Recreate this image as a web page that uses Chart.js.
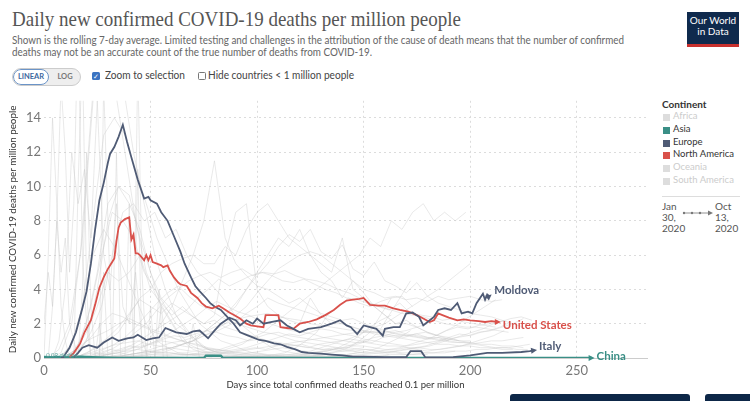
<!DOCTYPE html>
<html>
<head>
<meta charset="utf-8">
<script src="https://cdn.jsdelivr.net/npm/chart.js@4.4.1/dist/chart.umd.min.js"></script>
<style>
body{margin:0;width:750px;height:401px;overflow:hidden;background:#fff;font-family:Lato,sans-serif;position:relative}
.t{position:absolute;white-space:nowrap;transform-origin:0 50%}
#title{left:12px;top:6px;font-family:"Liberation Serif",serif;font-size:22px;color:#555}
.sub{left:12px;font-size:11px;color:#666}
#logo{position:absolute;left:687px;top:12px;width:52px;background:#0f2a4d;border-bottom:3px solid #c8312e;color:#fff;font-size:10px;line-height:11px;text-align:center;padding-top:3px;box-sizing:content-box;height:29px}
#toggle{position:absolute;left:12px;top:68px;width:67px;height:16px;border:1px solid #ccc;border-radius:9px;background:#eee;overflow:hidden}
#lin{position:absolute;left:0;top:0;width:34px;height:14px;border:1px solid #6b94c8;border-radius:9px;background:#fff;color:#3c679e;font-size:7.5px;line-height:14px;text-align:center;font-weight:bold}
#log{position:absolute;left:38px;top:0;width:28px;height:16px;color:#777;font-size:7.5px;line-height:16px;text-align:center;font-weight:bold}
.box{position:absolute;width:7px;height:7px;border-radius:1.5px}
.opt{font-size:10.5px;color:#444}
.lg{position:absolute;font-size:9.5px;color:#333;left:673px;white-space:nowrap}
.sq{position:absolute;left:663px;width:7px;height:7px}
.dt{position:absolute;font-size:10px;color:#555;line-height:11px}
.btn{position:absolute;top:394px;height:10px;background:#0d2747;border-radius:3px}
#chartBox{position:absolute;left:0;top:90px}
</style>
</head>
<body>
<div class="t" id="title" data-w="449">Daily new confirmed COVID-19 deaths per million people</div>
<div class="t sub" style="top:33px" data-w="612">Shown is the rolling 7-day average. Limited testing and challenges in the attribution of the cause of death means that the number of confirmed</div>
<div class="t sub" style="top:45px" data-w="360">deaths may not be an accurate count of the true number of deaths from COVID-19.</div>
<div id="logo">Our World<br>in Data</div>

<div id="toggle"><div id="lin">LINEAR</div><div id="log">LOG</div></div>
<div class="box" style="left:92px;top:72px;width:8px;height:8px;background:#3b74c2;color:#fff;font-size:7px;line-height:8px;text-align:center">&#10003;</div>
<div class="t opt" style="left:105px;top:69px" data-w="80">Zoom to selection</div>
<div class="box" style="left:198px;top:72px;border:1px solid #777;width:6px;height:6px"></div>
<div class="t opt" style="left:208px;top:69px" data-w="146">Hide countries &lt; 1 million people</div>

<div class="lg" style="top:98px;left:662px;font-weight:bold;font-size:10px">Continent</div>
<div class="sq" style="top:114px;background:#ddd"></div><div class="lg" style="top:110px;color:#ccc">Africa</div>
<div class="sq" style="top:127px;background:#3a8f86"></div><div class="lg" style="top:123px">Asia</div>
<div class="sq" style="top:140px;background:#4f5b75"></div><div class="lg" style="top:136px">Europe</div>
<div class="sq" style="top:152px;background:#d9514b"></div><div class="lg" style="top:148px">North America</div>
<div class="sq" style="top:165px;background:#ddd"></div><div class="lg" style="top:161px;color:#ccc">Oceania</div>
<div class="sq" style="top:178px;background:#ddd"></div><div class="lg" style="top:174px;color:#ccc">South America</div>
<div style="position:absolute;left:662px;top:196px;width:78px;height:1px;background:#ddd"></div>
<div class="dt" style="left:662px;top:201px">Jan<br>30,<br>2020</div>
<div class="dt" style="left:715px;top:201px">Oct<br>13,<br>2020</div>
<svg style="position:absolute;left:682px;top:209px" width="32" height="8">
<line x1="1" y1="4" x2="29" y2="4" stroke="#777" stroke-width="0.8"/>
<circle cx="2" cy="4" r="1.2" fill="#777"/><circle cx="10" cy="4" r="1.2" fill="#777"/><circle cx="18" cy="4" r="1.2" fill="#777"/>
<path d="M26 1.5 L31 4 L26 6.5 Z" fill="#777"/>
</svg>

<div class="btn" style="left:510px;width:180px"></div>
<div class="btn" style="left:705px;width:50px"></div>

<div id="chartBox"><canvas id="chart" width="660" height="311"></canvas></div>

<script>
// days since 0.1 deaths per million, and 7-day average deaths per million
const italyDays = [8, 9, 12, 15, 18, 20, 22, 24, 26, 28, 30, 31, 33, 35, 37, 39, 41, 44, 47, 49, 50, 53, 55, 58, 61, 64, 66, 69, 71, 73, 76, 78, 80, 83, 86, 89, 92, 95, 98, 101, 104, 108, 111, 114, 118, 121, 124, 130, 135, 140, 145, 150, 160, 170, 172, 177, 179, 185, 192, 200, 208, 215, 224, 228, 230];
const italyValues = [0, 0.05, 0.6, 1.5, 2.9, 3.9, 5.5, 7.5, 9.2, 10.2, 11.4, 11.9, 12.3, 12.9, 13.6, 12.6, 11.7, 10.4, 9.3, 9.4, 9.2, 9.0, 8.5, 8.0, 7.1, 6.2, 5.5, 4.7, 4.2, 3.9, 3.5, 3.2, 3.0, 2.8, 2.4, 2.0, 1.5, 1.35, 1.2, 1.05, 1.0, 0.85, 0.8, 0.65, 0.5, 0.35, 0.3, 0.25, 0.2, 0.15, 0.08, 0.08, 0.05, 0.05, 0.4, 0.4, 0.03, 0.03, 0.05, 0.15, 0.3, 0.3, 0.35, 0.4, 0.45];

const moldovaDays = [14, 16, 18, 21, 25, 28, 30, 32, 35, 39, 42, 44, 48, 51, 54, 57, 60, 62, 67, 70, 73, 77, 80, 83, 87, 90, 92, 95, 98, 100, 103, 107, 111, 114, 117, 120, 124, 130, 135, 139, 142, 144, 147, 150, 153, 156, 159, 160, 164, 167, 170, 173, 176, 178, 180, 183, 185, 188, 191, 194, 196, 199, 201, 203, 206, 207, 208, 209];
const moldovaValues = [0.05, 0.3, 0.6, 0.75, 0.6, 0.9, 1.05, 1.2, 1.0, 1.15, 1.2, 1.35, 1.05, 1.15, 1.2, 1.75, 1.6, 1.5, 1.4, 1.55, 1.6, 1.15, 1.6, 2.0, 2.35, 2.2, 1.9, 2.2, 2.0, 2.3, 2.0, 2.1, 2.2, 1.9, 1.7, 1.5, 1.7, 1.8, 2.0, 2.2, 1.9, 1.8, 1.4, 1.9, 1.8, 1.7, 1.3, 1.7, 1.8, 1.8, 2.6, 2.65, 2.4, 1.9, 2.1, 2.4, 2.8, 2.9, 2.8, 3.2, 2.6, 2.7, 2.6, 3.2, 3.75, 3.4, 3.7, 3.6];

const usDays = [12, 14, 17, 19, 22, 24, 26, 28, 30, 32, 33, 34, 35, 36, 38, 40, 41, 42, 43, 44, 45, 47, 48, 49, 50, 51, 53, 55, 56, 58, 59, 61, 63, 64, 67, 69, 72, 74, 76, 79, 82, 84, 87, 90, 92, 95, 97, 100, 103, 104, 110, 111, 114, 117, 120, 124, 128, 132, 136, 139, 142, 145, 148, 150, 153, 157, 160, 164, 167, 171, 175, 178, 181, 183, 185, 187, 190, 194, 197, 200, 204, 207, 210, 213];
const usValues = [0.05, 0.3, 0.85, 1.5, 2.2, 3.1, 4.1, 4.7, 5.2, 5.6, 5.8, 6.8, 7.6, 7.9, 8.1, 8.2, 6.9, 7.2, 6.1, 6.1, 6.0, 5.7, 6.0, 5.7, 6.0, 5.6, 5.5, 5.4, 5.3, 5.4, 5.1, 4.7, 4.4, 4.3, 4.2, 3.8, 3.5, 3.2, 3.0, 2.9, 3.05, 2.9, 2.65, 2.45, 2.3, 2.0, 1.9, 1.85, 1.8, 2.5, 2.5, 1.8, 1.75, 1.7, 2.0, 2.1, 2.25, 2.5, 2.8, 3.1, 3.35, 3.4, 3.45, 3.5, 3.1, 3.05, 3.05, 2.9, 2.8, 2.7, 2.5, 2.3, 2.1, 2.2, 2.6, 2.5, 2.35, 2.2, 2.25, 2.2, 2.15, 2.1, 2.15, 2.1];

const chinaDays = [0, 3, 6, 10, 14, 18, 22, 26, 30, 35, 40, 50, 60, 70, 75, 76, 83, 84, 100, 150, 200, 257];
const chinaValues = [0.06, 0.05, 0.06, 0.05, 0.06, 0.08, 0.05, 0.03, 0.02, 0.01, 0.01, 0.005, 0.003, 0.002, 0, 0.13, 0.13, 0, 0, 0, 0, 0];

// other countries, greyed out: first day, day step, values
const other1 = [0, 2, [0, 6, 14, 9, 3, 1, 0, 0, 10, 18, 4, 0, 0, 2, 0, 0, 0, 12, 0, 0, 0, 0, 17, 5, 0, 0, 0, 0, 0, 0, 0, 0, 0, 0, 0]];
const other2 = [2, 2, [0, 3, 8, 16, 12, 5, 9, 20, 6, 2, 0, 0, 0, 5, 0, 0, 0, 0, 0, 9, 0, 0, 0, 0, 0, 0, 4, 0, 0, 0]];
const other3 = [0, 2, [2, 5, 3, 8, 5, 7, 2, 1, 0, 4, 12, 3, 0, 0, 16, 8, 0, 0, 0, 0, 0, 0, 11, 0, 0, 3, 0, 0, 0, 0]];
const other4 = [4, 3, [0, 1, 4, 12, 9, 11, 7, 15, 6, 4, 9, 3, 2, 5, 1, 0, 0, 3, 0, 0, 0, 0, 2, 0, 0, 0]];
const other5 = [3, 5, [0, 0.3, 2, 7, 15, 18, 16, 12, 8, 5, 3.5, 2.5, 1.5, 0.8, 0.5, 0.3, 0.2, 0.1, 0.1, 0.1, 0.1, 0.2, 0.3, 0.6, 1, 1.5, 2.5, 3, 3.5, 3.2, 3, 3.3, 3.5, 3.6, 3]];
const other6 = [2, 5, [0, 0.5, 2, 6, 14, 22, 20, 16, 12, 9, 6, 4, 2.5, 1.5, 0.8, 0.5, 0.3, 0.3, 0.2, 0.3, 0.4, 0.5, 0.6, 0.5, 0.4, 0.3, 0.4, 0.5, 0.6, 0.8, 1.0, 1.5, 2.5, 3.5, 4.5]];
const other7 = [8, 5, [0.1, 0.8, 3, 8, 13, 14, 13, 11, 9, 7, 5.5, 4, 3, 2, 1.5, 1, 0.8, 0.5, 0.3, 0.2, 0.15, 0.1, 0.15, 0.2, 0.3, 0.4, 0.6, 0.9, 1.3, 1.8, 2.2, 2.5]];
const other8 = [10, 5, [0.1, 0.5, 2, 5, 9, 10, 9, 7.5, 5, 3.5, 2.8, 2, 1.2, 0.6, 0.4, 0.3, 0.2, 0.2, 0.15, 0.1, 0.15, 0.2, 0.2, 0.3, 0.4, 0.5, 0.6, 0.8, 1.0, 1.2, 1.3, 1.5, 1.6, 1.8, 2]];
const other9 = [12, 5, [0.1, 0.5, 1.5, 3, 6, 8.5, 9, 8, 8.5, 7, 7.5, 6, 5, 4.5, 3.8, 3, 2, 1.5, 1, 0.6, 0.4, 0.3, 0.2, 0.15, 0.1, 0.1, 0.1, 0.1, 0.1, 0.15, 0.2]];
const other10 = [15, 5, [0.05, 0.3, 0.6, 1, 1.5, 2.5, 3.5, 4, 5, 5.5, 5.8, 6, 5.5, 5.5, 6.5, 6, 7.5, 8.5, 9, 8, 7, 6.5, 6, 5, 4.5, 3.5, 4.5, 3.8, 3, 2.5, 2, 2, 1.8, 1.5, 1.3, 1.1, 1, 1]];
const other11 = [20, 5, [0.05, 0.1, 0.2, 0.3, 0.5, 0.8, 1.2, 2, 3, 4.5, 6, 8, 11.5, 7, 5.5, 4.8, 4.2, 4, 3.6, 3.2, 3.5, 3, 2.6, 2.4, 2.2, 2.3, 2, 1.8, 1.6, 1.4, 1.3, 1.4, 1.2, 1.1, 1.0]];
const other12 = [18, 5, [0.02, 0.1, 0.3, 0.6, 1, 1.5, 2, 2.8, 3.5, 4, 4.5, 4.8, 5, 4.7, 5, 5.2, 4.8, 5, 4.9, 5.1, 4.8, 4.6, 4.5, 4.3, 4, 3.8, 3.5, 3.2, 3, 2.8, 2.6, 2.5, 2.4, 2.2, 2, 1.9, 1.8, 1.8, 1.7, 1.6, 1.5]];
const other13 = [22, 5, [0.02, 0.1, 0.3, 0.5, 0.8, 1.2, 1.6, 2, 2.4, 2.8, 3.5, 4, 4.6, 4.2, 4.5, 4.8, 5, 4.8, 4.5, 4.4, 4.6, 4.3, 4.0, 3.8, 3.5, 3.4, 3.2, 3.0, 2.8, 3.2, 2.6, 2.5, 2.4, 2.2, 2.3, 2.1, 2.0, 1.9, 1.8]];
const other14 = [10, 5, [0.05, 0.5, 1.5, 3, 5, 4.5, 5, 6, 4, 3.2, 2.5, 3, 2.4, 2, 2.5, 6, 8.5, 9, 4, 3, 2.5, 2.2, 2, 3.5, 2.5, 2, 2, 1.8, 1.6, 1.5, 1.5, 1.6, 1.4, 1.3, 1.2, 1.2, 1.1, 1.0, 0.9]];
const other15 = [30, 5, [0.05, 0.1, 0.2, 0.3, 0.3, 0.5, 0.6, 0.8, 1, 1.5, 2, 2.5, 3, 4, 5, 6, 7, 6.5, 7.5, 6, 5.5, 5, 7, 4, 3.5, 3, 2.5, 2, 2.2, 1.8, 1.5, 1.3, 1.2, 1.0]];
const other16 = [30, 5, [0.02, 0.1, 0.2, 0.3, 0.4, 0.5, 0.6, 0.8, 1, 1.3, 1.6, 2, 2.5, 3, 3.8, 4.5, 5.2, 5.6, 6, 6.2, 6, 5.5, 5, 4.5, 4, 3.8, 3.5, 3.6, 3.4, 3.5, 3.3, 3.6, 3.4, 3.5, 3.6, 3.4, 3.3, 3.4]];
const other17 = [18, 5, [0.01, 0.05, 0.1, 0.1, 0.1, 0.1, 0.1, 0.1, 0.15, 0.2, 0.2, 0.3, 0.3, 0.4, 0.6, 0.8, 1.2, 1.5, 2, 2.5, 3, 3.5, 4, 4.5, 5, 5.5, 6, 7, 6.5, 8, 7.5, 8.5, 9, 8, 8.5, 8, 8.5]];
const other18 = [12, 5, [0.1, 1, 3, 6, 8.5, 8, 7, 5, 4, 3, 2, 1.5, 1, 0.5, 0.3, 0.2, 0.1, 0.1, 0.1, 0.1, 0.1, 0.1, 0.1, 0.1, 0.1, 0.15, 0.2, 0.3, 0.4, 0.6, 0.9, 1.2, 1.6]];
const other19 = [15, 5, [0.1, 1, 4, 8, 10, 9.5, 7, 5, 3, 2, 1, 0.5, 0.3, 0.2, 0.1, 0.1, 0.1, 0.05, 0.05, 0.05, 0.1, 0.1, 0.1, 0.2, 0.3, 0.4, 0.5, 0.6]];
const other20 = [8, 5, [0.1, 0.8, 3, 6, 7.5, 6.5, 5, 3.5, 2, 1, 0.6, 0.3, 0.2, 0.1, 0.05, 0.05, 0.05, 0.1, 0.1, 0.1, 0.1, 0.1, 0.1, 0.15, 0.2, 0.3, 0.4, 0.6, 1, 1.5, 2.5, 3.5]];
const other21 = [14, 5, [0.05, 0.2, 0.4, 0.6, 0.8, 0.9, 1, 0.8, 0.7, 0.6, 0.5, 0.4, 0.4, 0.3, 0.3, 0.4, 0.5, 0.6, 0.5, 0.7, 0.8, 0.7, 0.6, 0.8, 0.9, 1, 1.1, 1.0, 0.9, 1.2, 1.3, 1.2, 1.4, 1.5, 1.3, 1.6, 1.8, 1.7, 1.9, 2.0, 2.1, 2.3, 2.4, 2.2]];
const other22 = [16, 5, [0.02, 0.1, 0.3, 0.5, 0.4, 0.6, 0.7, 0.9, 1.1, 1.3, 1.2, 1.4, 1.6, 1.5, 1.3, 1.2, 1.0, 1.1, 0.9, 0.8, 0.7, 0.8, 0.6, 0.5, 0.6, 0.5, 0.4, 0.5, 0.4, 0.3, 0.4, 0.5, 0.6, 0.7, 0.9, 1.1, 1.3, 1.5, 1.7, 2.0, 2.2]];
const other23 = [20, 5, [0.05, 0.1, 0.2, 0.3, 0.2, 0.3, 0.4, 0.3, 0.3, 0.2, 0.2, 0.3, 0.4, 0.6, 0.8, 1.0, 1.2, 1.4, 1.5, 1.3, 1.2, 1.1, 1.0, 0.9, 0.8, 0.7, 0.7, 0.6, 0.5, 0.5, 0.6, 0.5, 0.4, 0.5, 0.6, 0.7, 0.8, 0.9, 1.0, 1.0, 1.1, 1.2]];
const other24 = [12, 5, [0.1, 0.6, 1.2, 2.0, 2.6, 2.4, 2.0, 1.8, 1.5, 1.3, 1.1, 0.9, 0.8, 0.6, 0.5, 0.4, 0.3, 0.2, 0.2, 0.1, 0.1, 0.1, 0.1, 0.1, 0.2, 0.2, 0.2, 0.3, 0.3, 0.4, 0.5, 0.6, 0.8, 1.0, 1.2, 1.5, 1.8, 2.2, 2.6, 3.0, 3.4]];
const other25 = [25, 5, [0.02, 0.05, 0.1, 0.2, 0.3, 0.5, 0.7, 0.9, 1.0, 1.2, 1.5, 1.8, 2.0, 2.2, 2.4, 2.5, 2.6, 2.4, 2.3, 2.2, 2.0, 1.9, 1.8, 1.7, 1.6, 1.5, 1.5, 1.4, 1.3, 1.3, 1.2, 1.1, 1.2, 1.0, 0.9, 0.9, 0.8, 0.8, 0.7, 0.7, 0.6]];
const other26 = [18, 5, [0.05, 0.2, 0.5, 0.8, 1.2, 1.8, 2.5, 3.2, 3.8, 4.2, 3.6, 3.1, 2.8, 2.4, 2.1, 1.9, 1.7, 1.5, 1.4, 1.2, 1.0, 0.9, 0.8, 0.7, 0.6, 0.6, 0.5, 0.5, 0.4, 0.4, 0.3, 0.3, 0.3, 0.3, 0.4, 0.4]];
const other27 = [22, 5, [0.02, 0.05, 0.1, 0.1, 0.1, 0.1, 0.1, 0.1, 0.1, 0.15, 0.2, 0.2, 0.25, 0.3, 0.4, 0.5, 0.6, 0.7, 0.8, 0.9, 1.0, 1.1, 1.2, 1.3, 1.4, 1.5, 1.5, 1.6, 1.5, 1.4, 1.3, 1.2, 1.1, 1.0, 0.9, 0.9, 0.8, 0.7, 0.6, 0.6, 0.5, 0.5]];
const other28 = [10, 5, [0.1, 0.5, 1.0, 1.3, 1.6, 2.0, 2.3, 2.0, 1.7, 1.5, 1.2, 1.0, 0.8, 0.6, 0.5, 0.4, 0.3, 0.3, 0.3, 0.2, 0.2, 0.2, 0.3, 0.4, 0.6, 0.8, 1.0, 1.2, 1.5, 1.8, 2.0, 2.4, 2.8, 3.2, 3.6, 4.0, 4.5, 5.0, 5.5]];
const other29 = [28, 5, [0.02, 0.05, 0.1, 0.1, 0.2, 0.2, 0.2, 0.3, 0.3, 0.2, 0.2, 0.1, 0.1, 0.1, 0.1, 0.1, 0.1, 0.1, 0.05, 0.05, 0.05, 0.05, 0.1, 0.1, 0.1, 0.1, 0.1, 0.2, 0.2, 0.2, 0.3, 0.3, 0.3, 0.4, 0.4, 0.5, 0.5, 0.6, 0.6, 0.7, 0.8]];
const other30 = [15, 5, [0.05, 0.3, 0.7, 1.2, 1.8, 2.6, 3.4, 3.0, 2.6, 3.2, 2.8, 2.4, 2.0, 2.2, 1.8, 1.6, 1.4, 1.2, 1.0, 0.9, 0.8, 0.7, 0.6, 0.5, 0.5, 0.4, 0.4, 0.3, 0.3, 0.3, 0.3, 0.2, 0.2, 0.2]];
const other31 = [35, 5, [0.05, 0.1, 0.2, 0.3, 0.4, 0.6, 0.8, 1.0, 1.3, 1.5, 1.8, 2.1, 2.6, 3.0, 3.5, 3.2, 3.0, 2.8, 2.6, 2.4, 2.2, 2.0, 1.8, 1.6, 1.4, 1.3, 1.2, 1.1, 1.0, 0.9, 0.8, 0.8, 0.7, 0.7, 0.6, 0.6, 0.5, 0.5]];
const other32 = [20, 5, [0.05, 0.15, 0.3, 0.5, 0.7, 0.6, 0.8, 1.0, 0.9, 0.7, 0.6, 0.5, 0.5, 0.4, 0.5, 0.6, 0.8, 1.0, 1.2, 1.4, 1.3, 1.5, 1.7, 1.6, 1.4, 1.3, 1.1, 1.0, 0.9, 0.8, 0.7, 0.8, 0.9, 1.0, 1.2, 1.4, 1.3, 1.5, 1.6, 1.8, 2.0, 2.3]];
const other33 = [26, 5, [0.02, 0.1, 0.2, 0.4, 0.6, 0.9, 1.2, 1.6, 2.0, 2.4, 2.9, 3.3, 3.0, 2.7, 2.5, 2.2, 2.0, 1.8, 1.6, 1.5, 1.4, 1.2, 1.1, 1.0, 0.9, 0.9, 0.8, 0.7, 0.7, 0.6, 0.6, 0.5, 0.5, 0.6, 0.7, 0.9, 1.1, 1.3, 1.6]];
const other34 = [14, 5, [0.05, 0.2, 0.3, 0.2, 0.3, 0.4, 0.5, 0.4, 0.3, 0.3, 0.2, 0.2, 0.15, 0.1, 0.1, 0.1, 0.1, 0.1, 0.05, 0.05, 0.05, 0.05, 0.05, 0.1, 0.1, 0.1, 0.15, 0.2, 0.25, 0.3, 0.4, 0.5, 0.6, 0.7, 0.9, 1.1, 1.2, 1.3, 1.5, 1.6, 1.8, 2.1]];
const other35 = [40, 5, [0.05, 0.1, 0.2, 0.3, 0.5, 0.8, 1.0, 1.5, 2.0, 2.5, 3.2, 4.0, 4.8, 5.5, 6.5, 7.2, 6.8, 7.5, 6.2, 5.8, 6.6, 5.2, 4.8, 5.6, 4.5, 4.2, 3.8, 4.4, 3.6, 3.2, 3.0, 2.8, 2.6, 2.5, 2.4, 2.2, 2.0, 1.8]];

const others = [other1, other2, other3, other4, other5, other6, other7, other8, other9, other10, other11, other12, other13, other14, other15, other16, other17, other18, other19, other20, other21, other22, other23, other24, other25, other26, other27, other28, other29, other30, other31, other32, other33, other34, other35];

const xTicks = [0, 50, 100, 150, 200, 250];
const yTicks = [0, 2, 4, 6, 8, 10, 12, 14];

function pairs(days, values){
  return days.map((d, i) => ({x: d, y: values[i]}));
}

function mainLine(label, days, values, color, dy){
  return {
    label: label,
    data: pairs(days, values),
    borderColor: color,
    borderWidth: 1.8,
    pointRadius: 0,
    endLabel: label,
    labelDy: dy
  };
}

const datasets = [
  mainLine('Moldova', moldovaDays, moldovaValues, '#4f5b75', -6),
  mainLine('United States', usDays, usValues, '#d9514b', 3),
  mainLine('Italy', italyDays, italyValues, '#4f5b75', -4),
  mainLine('China', chinaDays, chinaValues, '#3a8f86', -2)
];
datasets[3].borderWidth = 2.4;

others.forEach(o => {
  const days = o[2].map((v, i) => o[0] + i * o[1]);
  datasets.push({
    data: pairs(days, o[2]),
    borderColor: 'rgba(200,200,200,0.4)',
    borderWidth: 1,
    pointRadius: 0
  });
});

const endLabels = {
  id: 'endLabels',
  afterDatasetsDraw(chart){
    const ctx = chart.ctx;
    chart.data.datasets.forEach((ds, i) => {
      if(!ds.endLabel) return;
      const pts = chart.getDatasetMeta(i).data;
      const p = pts[pts.length - 1];
      const q = pts[Math.max(0, pts.length - 3)];
      const ang = Math.atan2(p.y - q.y, p.x - q.x);
      ctx.save();
      ctx.fillStyle = ds.borderColor;
      ctx.translate(p.x, p.y);
      ctx.rotate(ang);
      ctx.beginPath();
      ctx.moveTo(3, 0);
      ctx.lineTo(-3, -3);
      ctx.lineTo(-3, 3);
      ctx.closePath();
      ctx.fill();
      ctx.restore();
      ctx.save();
      ctx.font = 'bold 11.5px Lato';
      ctx.fillStyle = ds.borderColor;
      ctx.textBaseline = 'middle';
      ctx.fillText(ds.endLabel, p.x + 5, p.y + ds.labelDy);
      ctx.restore();
    });
    // small start value note on China line
    const xs = chart.scales.x, ys = chart.scales.y;
    ctx.save();
    ctx.font = '6px Lato';
    ctx.fillStyle = '#5aa39c';
    ctx.textBaseline = 'middle';
    ctx.fillText('0.09 deaths', xs.getPixelForValue(1), ys.getPixelForValue(0.18));
    ctx.restore();
  }
};

new Chart(document.getElementById('chart'), {
  type: 'line',
  data: {datasets: datasets},
  options: {
    responsive: false,
    animation: false,
    layout: {padding: {top: 8.6, right: 13, left: 0, bottom: 0}},
    plugins: {legend: {display: false}, tooltip: {enabled: false}},
    elements: {line: {tension: 0}},
    scales: {
      x: {
        type: 'linear',
        min: 0,
        max: 283,
        afterFit: s => { s.height = 43; },
        afterBuildTicks: s => { s.ticks = xTicks.map(v => ({value: v})); },
        ticks: {color: '#777', font: {family: 'Lato', size: 13}, padding: 5},
        grid: {
          color: c => c.tick && c.tick.value === 0 ? 'rgba(0,0,0,0)' : '#dcdcdc',
          drawTicks: false
        },
        border: {display: true, color: '#ccc', dash: [2, 3]},
        title: {
          display: true,
          text: 'Days since total confirmed deaths reached 0.1 per million',
          color: '#333',
          font: {family: 'Lato', size: 9.5},
          padding: {top: 0, bottom: 10}
        }
      },
      y: {
        min: 0,
        max: 15,
        afterFit: s => { s.width = 44; },
        afterBuildTicks: s => { s.ticks = yTicks.map(v => ({value: v})); },
        ticks: {color: '#777', font: {family: 'Lato', size: 13}, padding: 3},
        grid: {color: '#dcdcdc', drawTicks: false},
        border: {display: false, dash: [2, 3]},
        title: {
          display: true,
          text: 'Daily new confirmed COVID-19 deaths per million people',
          color: '#333',
          font: {family: 'Lato', size: 9.8},
          padding: {top: 7, bottom: 0}
        }
      }
    }
  },
  plugins: [endLabels]
});

// squeeze header texts to the widths they have in the picture
document.querySelectorAll('[data-w]').forEach(el => {
  const w = el.getBoundingClientRect().width;
  el.style.transform = 'scaleX(' + (parseFloat(el.dataset.w) / w) + ')';
});
</script>
</body>
</html>
